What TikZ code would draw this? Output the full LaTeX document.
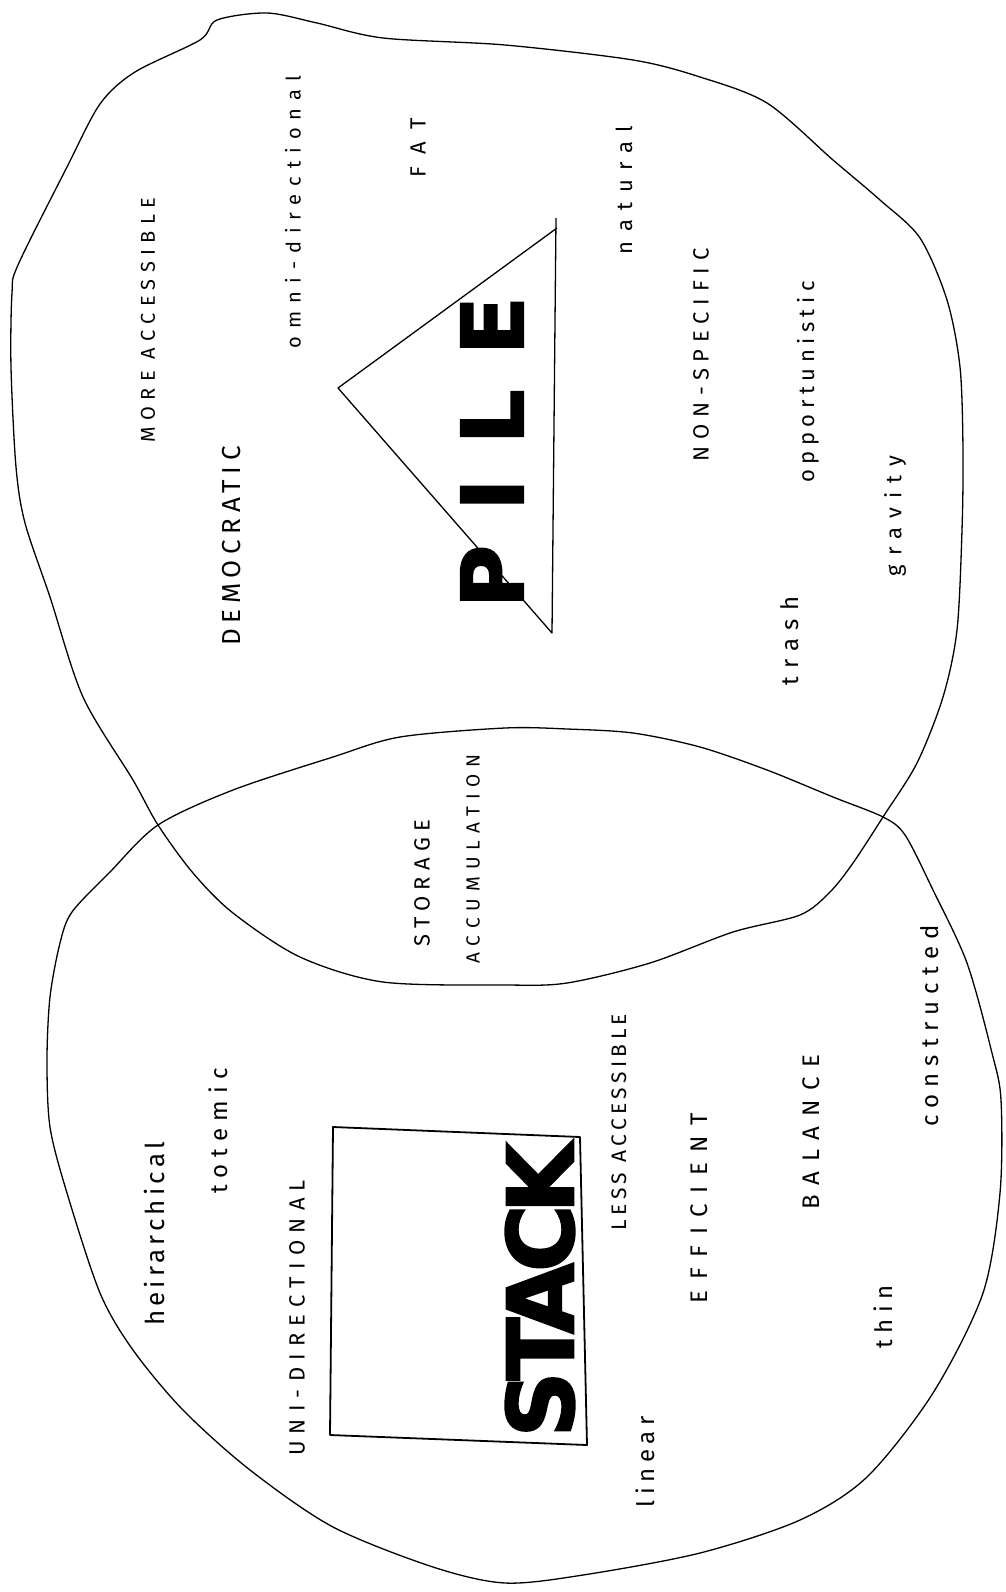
\documentclass[tikz,border=0pt]{standalone}
\usepackage{fontspec}
\setmainfont{Fira Sans}
\newfontfamily\bigfont{DejaVu Sans}[BoldFeatures={FakeBold=2}]

\begin{document}
\begin{tikzpicture}[x=1pt, y=-1pt,
  every node/.style={inner sep=0pt},
  outline/.style={line width=1.3pt, line join=round},
  word/.style 2 args={rotate=90, font=\fontsize{#1}{#1}\selectfont\addfontfeature{LetterSpace=#2}},
  bigword/.style 2 args={rotate=90, font=\bigfont\bfseries\fontsize{#1}{#1}\selectfont\addfontfeature{LetterSpace=#2}}]
  \useasboundingbox[fill=white] (0,0) rectangle (1005,1592);

  % Pile region
  \draw[outline] plot[smooth cycle, tension=0.5] coordinates {
    (505,45) (633,60) (700,77) (767,103) (833,160) (880,200) (920,238)
    (947,300) (960,367) (963,450) (962,530) (957,630) (943,697) (917,763)
    (883,817) (853,863) (830,892) (800,915) (733,932) (650,963) (567,983)
    (505,985) (383,982) (300,957) (233,913) (193,873) (158,825) (133,780)
    (83,697) (50,597) (25,523) (16,467) (11,367) (12,293) (18,265)
    (67,167) (100,104) (135,72) (200,40) (217,20) (267,13) (317,23) (383,38)};

  % Stack region
  \draw[outline] plot[smooth cycle, tension=0.5] coordinates {
    (505,728) (567,729) (633,733) (700,747) (767,770) (833,797) (883,817)
    (905,835) (933,890) (967,963) (992,1053) (1001,1100) (1000,1193)
    (983,1293) (933,1393) (867,1477) (800,1520) (700,1553) (583,1575)
    (505,1583) (433,1567) (333,1527) (250,1470) (183,1410) (133,1350)
    (100,1293) (67,1193) (50,1127) (47,1060) (50,997) (60,943) (72,912)
    (110,872) (158,825) (233,790) (333,757) (400,737)};

  % Triangle
  \draw[line width=1.3pt, line join=round] (556,218) -- (552,633) -- (338,388) -- (557,228);

  % Box
  \draw[line width=1.8pt, line join=round] (333,1127) -- (580,1137) -- (587,1445) -- (330,1435) -- cycle;

  % Big words
  \node[bigword={86}{40}] (pile) at (492,452) {PILE};
  \node[bigword={92}{-10}] (stack) at (540,1290) {STACK};

  % Pile words
  \node[word={20}{32}] (moreacc) at (148,320) {MORE ACCESSIBLE};
  \node[word={20}{40}] (omni) at (293,212) {omni-directional};
  \node[word={22}{60}] (fat) at (418,148) {FAT};
  \node[word={26}{22}] (democ) at (232,546) {DEMOCRATIC};
  \node[word={22}{43}] (natural) at (624,190) {natural};
  \node[word={22}{31}] (nonspec) at (701,355) {NON-SPECIFIC};
  \node[word={22}{25}] (opport) at (808,382) {opportunistic};
  \node[word={22}{41}] (gravity) at (895,516) {gravity};
  \node[word={24}{35}] (trash) at (790,641) {trash};

  % Shared words
  \node[word={22}{29}] (storage) at (422,883) {STORAGE};
  \node[word={19}{37}] (accum) at (473,859) {ACCUMULATION};

  % Stack words
  \node[word={26}{16}] (heir) at (155,1234) {heirarchical};
  \node[word={24}{30}] (totemic) at (218,1131) {totemic};
  \node[word={22}{33}] (unidir) at (297,1318) {UNI-DIRECTIONAL};
  \node[word={21}{21}] (lessacc) at (619,1122) {LESS ACCESSIBLE};
  \node[word={24}{44}] (effic) at (699,1208) {EFFICIENT};
  \node[word={24}{40}] (balance) at (811,1132) {BALANCE};
  \node[word={24}{28}] (thin) at (883,1317) {thin};
  \node[word={24}{30}] (constr) at (930,1026) {constructed};
  \node[word={24}{23}] (linear) at (645,1462) {linear};
\end{tikzpicture}
\end{document}
